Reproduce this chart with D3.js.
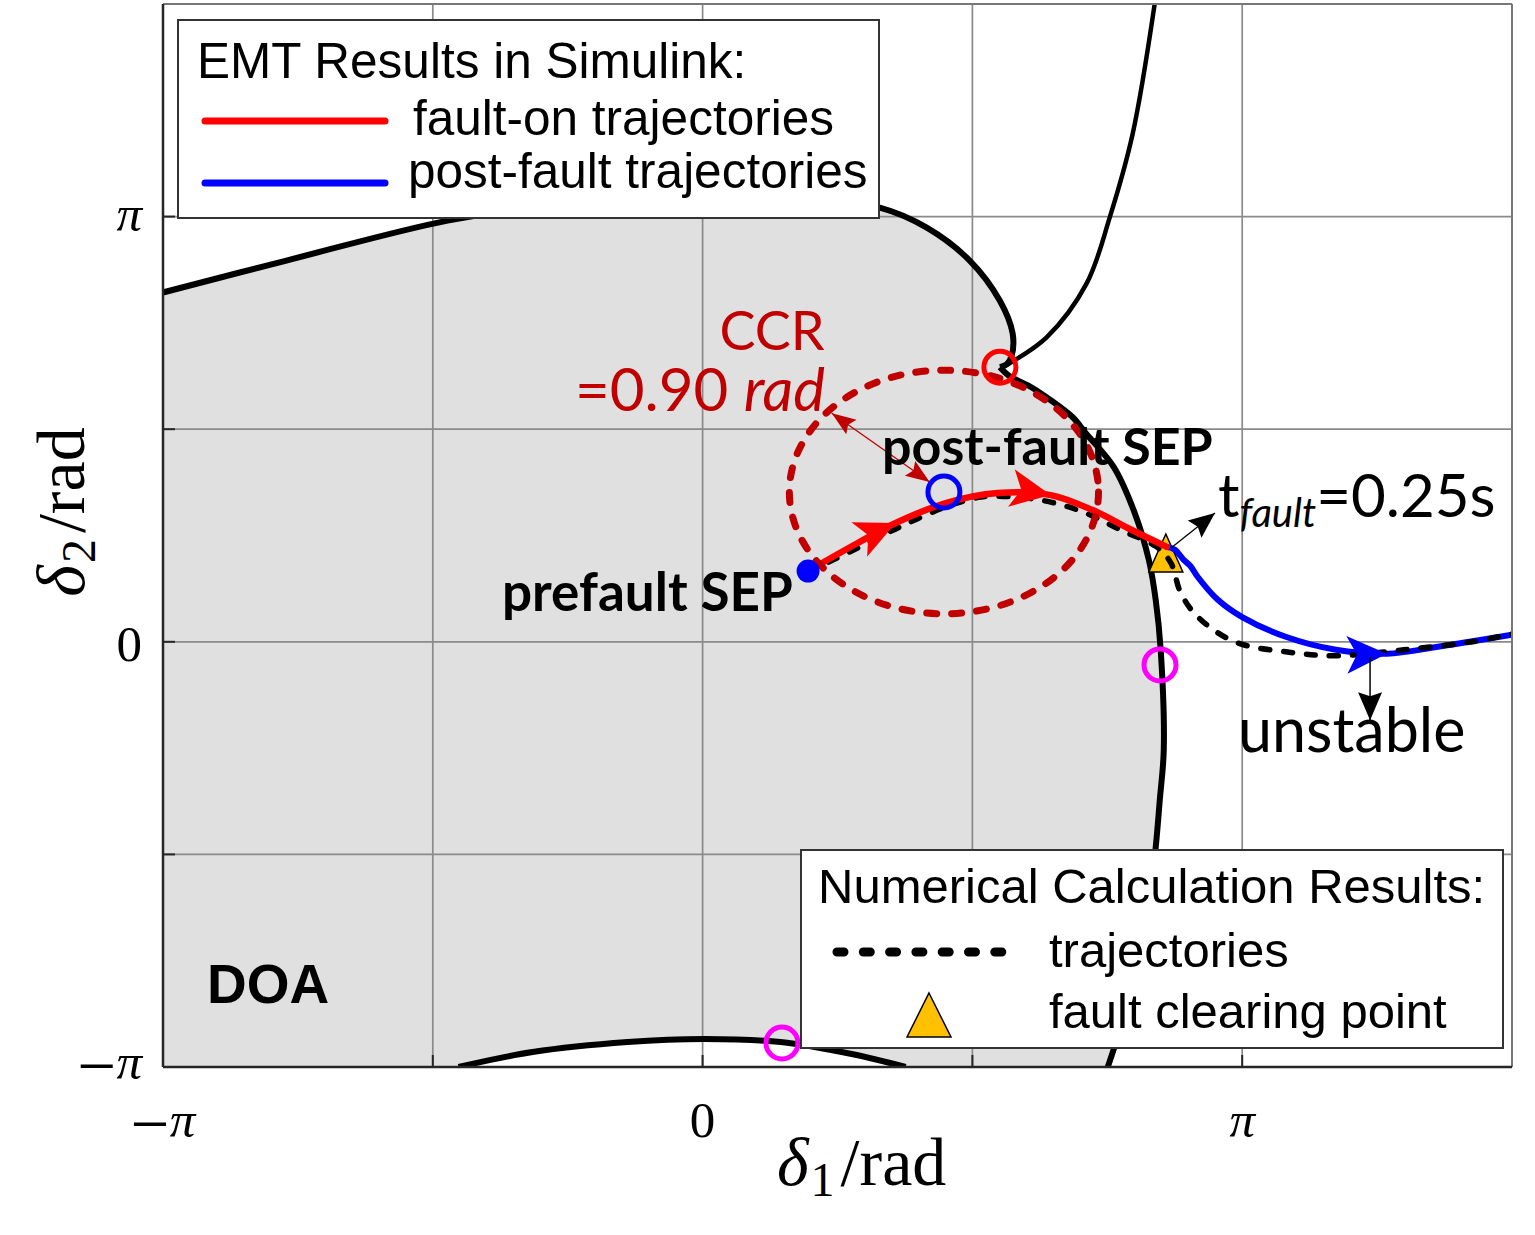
<!DOCTYPE html>
<html>
<head>
<meta charset="utf-8">
<script src="https://cdn.jsdelivr.net/npm/d3@7/dist/d3.min.js"></script>
<style>
  body { margin: 0; background: #fff; }
  text { fill: #000; }
</style>
</head>
<body>
<svg id="chart" width="1535" height="1235"></svg>
<script>
var PI = Math.PI;

// ---- data (radians) ----
var gridTicks = [-PI / 2, 0, PI / 2, PI];
var tickVals = [-PI, 0, PI];
var tickLabels = ["−π", "0", "π"];

// boundary of the domain of attraction (stable manifolds of the UEP)
var doaTop = [[-PI, 2.581], [-2.423, 2.817], [-1.485, 3.112], [-0.9, 3.22], [-0.2, 3.29],
  [0.5, 3.29], [1.031, 3.208], [1.305, 3.060], [1.555, 2.817], [1.730, 2.522],
  [1.805, 2.279], [1.800, 2.117], [1.771, 2.050], [1.731, 2.029]];
var doaRight = [[1.731, 2.029], [1.788, 1.962], [1.904, 1.888], [2.027, 1.785], [2.155, 1.659],
  [2.231, 1.541], [2.394, 1.291], [2.516, 0.951], [2.598, 0.605], [2.638, 0.310],
  [2.667, -0.059], [2.685, -0.796], [2.662, -1.165], [2.638, -1.519], [2.603, -1.903],
  [2.539, -2.345], [2.458, -2.751], [2.359, -PI]];
var doaBottom = [[-1.421, -PI], [-0.990, -3.031], [-0.437, -2.957], [0.012, -2.935],
  [0.454, -2.957], [0.868, -3.046], [1.182, -PI]];
// unstable manifold leaving the UEP
var uepBranch = [[1.745, 2.030], [1.790, 2.060], [2.003, 2.249], [2.236, 2.648],
  [2.370, 3.134], [2.504, 3.754], [2.632, 1.5 * PI]];

// EMT trajectories
var faultOn = [[0.614, 0.523], [0.903, 0.730], [1.124, 0.878], [1.415, 1.025], [1.718, 1.099],
  [2.027, 1.084], [2.271, 0.973], [2.499, 0.826], [2.702, 0.701]];
var postFault = [[2.702, 0.701], [2.750, 0.680], [2.801, 0.605], [2.840, 0.560], [2.883, 0.479],
  [3.000, 0.310], [3.139, 0.184], [3.395, 0.037], [3.687, -0.059], [3.984, -0.088],
  [4.281, -0.037], [1.5 * PI, 0.052]];
// numerical trajectory
var numTraj = [[0.614, 0.516], [0.903, 0.693], [1.147, 0.848], [1.415, 0.996], [1.619, 1.069],
  [1.823, 1.069], [2.027, 1.032], [2.231, 0.951], [2.434, 0.826], [2.644, 0.701],
  [2.726, 0.583], [2.784, 0.361], [2.883, 0.184], [3.098, 0.000], [3.395, -0.074],
  [3.687, -0.103], [4.083, -0.059], [4.479, 0.000], [1.5 * PI, 0.059]];

var prefaultSEP = [0.614, 0.523];
var postfaultSEP = [1.405, 1.107];
var uep = [1.731, 2.029];
var otherUEPs = [[2.663, -0.171], [0.462, -2.964]];
var faultClear = [2.697, 0.656];
var ccrRadius = 0.90;

var faultOnArrows = [2, 5];
var postFaultArrows = [9];
var ccrArrow = [[0.752, 1.689], [1.322, 1.180]];
var tfaultArrow = [[2.727, 0.693], [2.983, 0.952]];
var unstableArrow = [[3.886, -0.113], [3.886, -0.579]];

// ---- scales ----
var svg = d3.select("#chart");
var x = d3.scaleLinear().domain([-PI, 1.5 * PI]).range([163, 1512]);
var y = d3.scaleLinear().domain([-PI, 1.5 * PI]).range([1067, 4]);

var line = d3.line()
  .x(function(d) { return x(d[0]); })
  .y(function(d) { return y(d[1]); })
  .curve(d3.curveCatmullRom.alpha(0.5));

svg.append("defs").append("clipPath").attr("id", "plotclip")
  .append("rect").attr("x", x(-PI)).attr("y", y(1.5 * PI))
  .attr("width", x(1.5 * PI) - x(-PI)).attr("height", y(-PI) - y(1.5 * PI));

var plot = svg.append("g").attr("clip-path", "url(#plotclip)");

// DOA fill
var fillPath = "M" + x(-PI) + "," + y(-PI) +
  line(doaTop).replace(/^M/, "L") +
  line(doaRight).replace(/^M/, "L") +
  line(doaBottom.slice().reverse()).replace(/^M/, "L") + "Z";
plot.append("path").attr("d", fillPath).attr("fill", "#e0e0e0");

// grid
plot.selectAll(".gx").data(gridTicks).enter().append("line")
  .attr("x1", function(d) { return x(d); }).attr("x2", function(d) { return x(d); })
  .attr("y1", y(-PI)).attr("y2", y(1.5 * PI))
  .attr("stroke", "#8a8a8a").attr("stroke-width", 1.7);
plot.selectAll(".gy").data(gridTicks).enter().append("line")
  .attr("y1", function(d) { return y(d); }).attr("y2", function(d) { return y(d); })
  .attr("x1", x(-PI)).attr("x2", x(1.5 * PI))
  .attr("stroke", "#8a8a8a").attr("stroke-width", 1.7);

// axes box + inward ticks
var axg = svg.append("g");
axg.append("line").attr("x1", x(-PI)).attr("x2", x(1.5 * PI)).attr("y1", y(1.5 * PI)).attr("y2", y(1.5 * PI))
  .attr("stroke", "#777").attr("stroke-width", 2);
axg.append("line").attr("x1", x(1.5 * PI)).attr("x2", x(1.5 * PI)).attr("y1", y(-PI)).attr("y2", y(1.5 * PI))
  .attr("stroke", "#777").attr("stroke-width", 2);
axg.append("line").attr("x1", x(-PI)).attr("x2", x(1.5 * PI)).attr("y1", y(-PI)).attr("y2", y(-PI))
  .attr("stroke", "#262626").attr("stroke-width", 2.5);
axg.append("line").attr("x1", x(-PI)).attr("x2", x(-PI)).attr("y1", y(-PI)).attr("y2", y(1.5 * PI))
  .attr("stroke", "#262626").attr("stroke-width", 2.5);
gridTicks.forEach(function(t) {
  axg.append("line").attr("x1", x(t)).attr("x2", x(t)).attr("y1", y(-PI)).attr("y2", y(-PI) - 12)
    .attr("stroke", "#262626").attr("stroke-width", 2);
  axg.append("line").attr("y1", y(t)).attr("y2", y(t)).attr("x1", x(-PI)).attr("x2", x(-PI) + 12)
    .attr("stroke", "#262626").attr("stroke-width", 2);
});

function mathText(g, str, px, py, anchor, size) {
  var t = g.append("text").attr("x", px).attr("y", py).attr("text-anchor", anchor)
    .attr("font-family", "Liberation Serif, Times New Roman, serif").attr("font-size", size);
  str.split("").forEach(function(ch) {
    if (ch === "−") {
      t.append("tspan").text("−").attr("font-size", size * 1.35).attr("dy", 10);
    } else {
      var s = t.append("tspan").text(ch).attr("font-style", ch === "π" ? "italic" : "normal");
      if (str.length > 1) s.attr("dy", -10);
    }
  });
  return t;
}
var yLabelShift = [12, 19, 14];
tickVals.forEach(function(v, i) {
  mathText(axg, tickLabels[i], x(v), 1137, "middle", 51);
  mathText(axg, tickLabels[i], 142, y(v) + yLabelShift[i], "end", 51);
});

// axis labels
var xl = axg.append("text").attr("x", 777).attr("y", 1185)
  .attr("font-family", "Liberation Serif, serif").attr("font-size", 68);
xl.append("tspan").text("δ").attr("font-style", "italic");
xl.append("tspan").text("1").attr("font-size", 48).attr("dy", 11).attr("dx", 2);
xl.append("tspan").text("/rad").attr("dy", -11).attr("dx", 6);
var yl = axg.append("text").attr("transform", "translate(84,512) rotate(-90)").attr("text-anchor", "middle")
  .attr("font-family", "Liberation Serif, serif").attr("font-size", 68);
yl.append("tspan").text("δ").attr("font-style", "italic");
yl.append("tspan").text("2").attr("font-size", 48).attr("dy", 11).attr("dx", 2);
yl.append("tspan").text("/rad").attr("dy", -11).attr("dx", 6);

// boundary curves
plot.append("path").attr("d", line(doaTop)).attr("fill", "none").attr("stroke", "#000").attr("stroke-width", 6);
plot.append("path").attr("d", line(doaRight)).attr("fill", "none").attr("stroke", "#000").attr("stroke-width", 6);
plot.append("path").attr("d", line(doaBottom)).attr("fill", "none").attr("stroke", "#000").attr("stroke-width", 6);
plot.append("path").attr("d", line(uepBranch)).attr("fill", "none").attr("stroke", "#000").attr("stroke-width", 4.5);

// fault clearing point
function triangle(cx, cy, w, h) {
  return "M" + cx + "," + (cy - h / 2) + "L" + (cx + w / 2) + "," + (cy + h / 2) + "L" + (cx - w / 2) + "," + (cy + h / 2) + "Z";
}
plot.append("path").attr("d", triangle(x(faultClear[0]), y(faultClear[1]), 34, 38))
  .attr("fill", "#ffc000").attr("stroke", "#000").attr("stroke-width", 1.5);

// trajectories
plot.append("path").attr("d", line(postFault)).attr("fill", "none").attr("stroke", "#0000ff").attr("stroke-width", 6)
  .attr("stroke-linecap", "round");
plot.append("path").attr("d", line(numTraj)).attr("fill", "none").attr("stroke", "#000").attr("stroke-width", 5.5)
  .attr("stroke-dasharray", "9,14").attr("stroke-linecap", "round");
plot.append("path").attr("d", line(faultOn)).attr("fill", "none").attr("stroke", "#ff0000").attr("stroke-width", 6.5)
  .attr("stroke-linecap", "round");

// CCR circle around the post-fault SEP
plot.append("ellipse").attr("cx", x(postfaultSEP[0])).attr("cy", y(postfaultSEP[1]))
  .attr("rx", x(postfaultSEP[0] + ccrRadius) - x(postfaultSEP[0]))
  .attr("ry", y(postfaultSEP[1]) - y(postfaultSEP[1] + ccrRadius))
  .attr("fill", "none").attr("stroke", "#c00000").attr("stroke-width", 7)
  .attr("stroke-dasharray", "10,15").attr("stroke-linecap", "round");

// arrowheads
function head(tip, ang, L, W, n) {
  var c = Math.cos(ang), s = Math.sin(ang);
  var bx = tip[0] - L * c, by = tip[1] - L * s;
  return "M" + tip[0] + "," + tip[1] +
    "L" + (bx - W * s) + "," + (by + W * c) +
    "L" + (tip[0] - (L - n) * c) + "," + (tip[1] - (L - n) * s) +
    "L" + (bx + W * s) + "," + (by - W * c) + "Z";
}
function pathHeads(data, idx, color) {
  idx.forEach(function(i) {
    var a = data[i - 1], b = data[i + 1];
    var ang = Math.atan2(y(b[1]) - y(a[1]), x(b[0]) - x(a[0]));
    plot.append("path").attr("d", head([x(data[i][0]), y(data[i][1])], ang, 40, 19, 10)).attr("fill", color);
  });
}
pathHeads(faultOn, faultOnArrows, "#ff0000");
pathHeads(postFault, postFaultArrows, "#0000ff");

function annotArrow(seg, color, w, both, L, W) {
  var p0 = [x(seg[0][0]), y(seg[0][1])], p1 = [x(seg[1][0]), y(seg[1][1])];
  var ang = Math.atan2(p1[1] - p0[1], p1[0] - p0[0]);
  svg.append("line").attr("x1", p0[0]).attr("y1", p0[1]).attr("x2", p1[0]).attr("y2", p1[1])
    .attr("stroke", color).attr("stroke-width", w);
  svg.append("path").attr("d", head(p1, ang, L, W, 4)).attr("fill", color);
  if (both) svg.append("path").attr("d", head(p0, ang + PI, L, W, 4)).attr("fill", color);
}
annotArrow(ccrArrow, "#c00000", 1.3, true, 24, 9);
annotArrow(tfaultArrow, "#000", 1.3, false, 26, 11);
annotArrow(unstableArrow, "#000", 1.5, false, 28, 12);

// equilibrium markers
svg.append("circle").attr("cx", x(prefaultSEP[0])).attr("cy", y(prefaultSEP[1])).attr("r", 11.5).attr("fill", "#0000ff");
svg.append("circle").attr("cx", x(postfaultSEP[0])).attr("cy", y(postfaultSEP[1])).attr("r", 16)
  .attr("fill", "none").attr("stroke", "#0000ff").attr("stroke-width", 5);
svg.append("circle").attr("cx", x(uep[0])).attr("cy", y(uep[1])).attr("r", 16)
  .attr("fill", "none").attr("stroke", "#ff0000").attr("stroke-width", 5);
otherUEPs.forEach(function(p) {
  svg.append("circle").attr("cx", x(p[0])).attr("cy", y(p[1])).attr("r", 16)
    .attr("fill", "none").attr("stroke", "#ff00ff").attr("stroke-width", 5);
});

// annotations
var cal = "Lato, 'Open Sans', sans-serif";
svg.append("text").attr("x", 772).attr("y", 350).attr("text-anchor", "middle")
  .attr("font-family", cal).attr("font-size", 54).style("fill", "#c00000").text("CCR");
var ccrv = svg.append("text").attr("x", 825).attr("y", 411).attr("text-anchor", "end")
  .attr("font-family", cal).attr("font-size", 60).style("fill", "#c00000");
ccrv.append("tspan").text("=0.90 ");
ccrv.append("tspan").text("rad").attr("font-style", "italic");
svg.append("text").attr("x", 882).attr("y", 465).attr("font-family", cal).attr("font-weight", "bold")
  .attr("font-size", 52).text("post-fault SEP");
svg.append("text").attr("x", 502).attr("y", 611).attr("font-family", cal).attr("font-weight", "bold")
  .attr("font-size", 53).text("prefault SEP");
var tf = svg.append("text").attr("x", 1218).attr("y", 517).attr("font-family", cal).attr("font-size", 60);
tf.append("tspan").text("t");
tf.append("tspan").text("fault").attr("font-style", "italic").attr("font-size", 40).attr("dy", 10);
tf.append("tspan").text("=0.25s").attr("dy", -10);
svg.append("text").attr("x", 1238).attr("y", 752).attr("font-family", cal).attr("font-size", 61).text("unstable");
svg.append("text").attr("x", 207).attr("y", 1003).attr("font-family", "Liberation Sans, Arial, sans-serif")
  .attr("font-weight", "bold").attr("font-size", 55).text("DOA");

// legends
var arial = "Liberation Sans, Arial, sans-serif";
var lg1 = svg.append("g");
lg1.append("rect").attr("x", 178).attr("y", 20).attr("width", 701).attr("height", 198)
  .attr("fill", "#fff").attr("stroke", "#333").attr("stroke-width", 2);
lg1.append("text").attr("x", 197).attr("y", 78).attr("font-family", arial).attr("font-size", 49.5).text("EMT Results in Simulink:");
lg1.append("line").attr("x1", 205).attr("x2", 385).attr("y1", 121).attr("y2", 121)
  .attr("stroke", "#ff0000").attr("stroke-width", 7).attr("stroke-linecap", "round");
lg1.append("text").attr("x", 413).attr("y", 135).attr("font-family", arial).attr("font-size", 49.5).text("fault-on trajectories");
lg1.append("line").attr("x1", 205).attr("x2", 385).attr("y1", 183).attr("y2", 183)
  .attr("stroke", "#0000ff").attr("stroke-width", 7).attr("stroke-linecap", "round");
lg1.append("text").attr("x", 408).attr("y", 188).attr("font-family", arial).attr("font-size", 49.5).text("post-fault trajectories");

var lg2 = svg.append("g");
lg2.append("rect").attr("x", 801).attr("y", 850).attr("width", 702).attr("height", 198)
  .attr("fill", "#fff").attr("stroke", "#333").attr("stroke-width", 2);
lg2.append("text").attr("x", 818).attr("y", 903).attr("font-family", arial).attr("font-size", 49).text("Numerical Calculation Results:");
lg2.append("line").attr("x1", 837).attr("x2", 1004).attr("y1", 952).attr("y2", 952)
  .attr("stroke", "#000").attr("stroke-width", 9).attr("stroke-dasharray", "7,19.3").attr("stroke-linecap", "round");
lg2.append("text").attr("x", 1049).attr("y", 967).attr("font-family", arial).attr("font-size", 49).text("trajectories");
lg2.append("path").attr("d", triangle(929, 1015, 44, 44)).attr("fill", "#ffc000").attr("stroke", "#000").attr("stroke-width", 1.5);
lg2.append("text").attr("x", 1049).attr("y", 1028).attr("font-family", arial).attr("font-size", 49).text("fault clearing point");
</script>
</body>
</html>
